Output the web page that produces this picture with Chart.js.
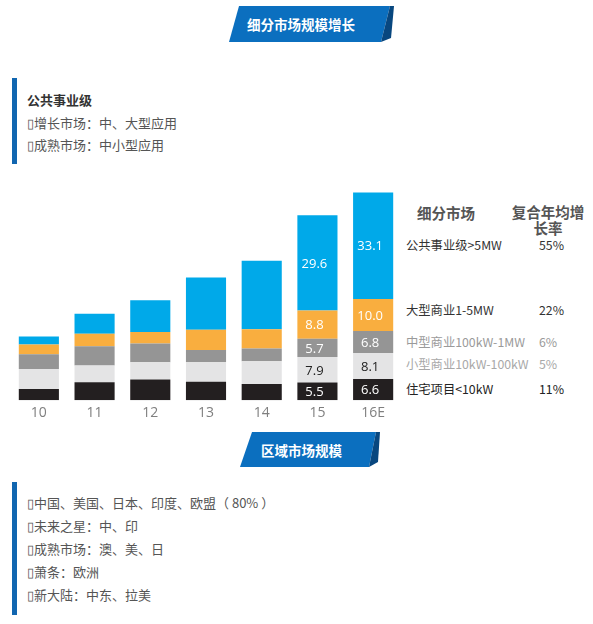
<!DOCTYPE html>
<html>
<head>
<meta charset="utf-8">
<script src="https://cdn.jsdelivr.net/npm/chart.js@4"></script>
<style>
  html, body { margin: 0; padding: 0; background: #fff; }
  body { width: 593px; height: 624px; position: relative; overflow: hidden;
         font-family: "Noto Sans CJK SC", "Noto Sans", sans-serif; }
  .abs { position: absolute; }
  .bar { position: absolute; left: 12px; width: 5px; background: #1166b0; }
  .block { position: absolute; left: 27px; font-size: 13px; color: #555; line-height: 22.5px; white-space: nowrap; }
  .block b { color: #333; }
  .banner-text { position: absolute; color: #fff; font-weight: bold; font-size: 13.5px; line-height: 16px; white-space: nowrap; }
  #chartBox { position: absolute; left: 0; top: 180px; width: 405px; height: 237px; }
  .lg { position: absolute; font-size: 12.3px; line-height: 16px; white-space: nowrap; font-family: "Noto Sans CJK SC", sans-serif; }
  .hd { position: absolute; font-size: 14.5px; font-weight: bold; color: #555; line-height: 17px; white-space: nowrap; text-align: center; }
</style>
</head>
<body>
<svg class="abs" style="left:0;top:0" width="593" height="624">
  <polygon points="239,6 390,6 381,42 229,42" fill="#0b6fbf"/>
  <polygon points="390,6 394,6 391,38 381,42" fill="#08477f"/>
  <polygon points="252,432 376,432 369,467 240,467" fill="#0b6fbf"/>
  <polygon points="376,432 380,432 378,462 369,467" fill="#08477f"/>
</svg>
<div class="banner-text" style="left:247px;top:16px;">细分市场规模增长</div>
<div class="banner-text" style="left:261px;top:442px;">区域市场规模</div>

<div class="bar" style="top:78px;height:86px;"></div>
<div class="block" style="top:89px;">
  <b>公共事业级</b><br>
  ▯增长市场：中、大型应用<br>
  ▯成熟市场：中小型应用
</div>

<div class="bar" style="top:482px;height:133px;"></div>
<div class="block" style="top:491px;line-height:23px;">
  ▯中国、美国、日本、印度、欧盟（ 80% ）<br>
  ▯未来之星：中、印<br>
  ▯成熟市场：澳、美、日<br>
  ▯萧条：欧洲<br>
  ▯新大陆：中东、拉美
</div>

<div id="chartBox"><canvas id="chartMarket"></canvas></div>

<div class="hd" style="left:417px;top:204px;">细分市场</div>
<div class="hd" style="left:510px;top:204px;width:76px;line-height:16px;">复合年均增<br>长率</div>
<div id="legendRows"></div>

<script>
const years = ['10', '11', '12', '13', '14', '15', '16E'];
const residential = [3.5, 5.6, 6.4, 5.7, 5.0, 5.5, 6.6];
const smallCommercial = [6.2, 5.2, 5.4, 6.1, 7.1, 7.9, 8.1];
const midCommercial = [4.6, 6.0, 5.8, 3.8, 4.0, 5.7, 6.8];
const largeCommercial = [3.0, 3.9, 3.6, 6.3, 6.0, 8.8, 10.0];
const utility = [2.5, 6.2, 9.9, 16.3, 21.3, 29.6, 33.1];
const labeledYears = ['15', '16E'];

const segmentNames = ['公共事业级>5MW', '大型商业1-5MW', '中型商业100kW-1MW', '小型商业10kW-100kW', '住宅项目<10kW'];
const cagr = ['55%', '22%', '6%', '5%', '11%'];

// legend rows, top to bottom
const rowTops = [237, 302, 334, 356, 381];
const rowColors = ['#333', '#333', '#9a9a9a', '#a8a8a8', '#222'];
let rowsHtml = '';
for (let i = 0; i < segmentNames.length; i++) {
    const name = segmentNames[i].replace('<', '&lt;').replace('>', '&gt;');
    rowsHtml += '<div class="lg" style="left:406px;top:' + rowTops[i] + 'px;color:' + rowColors[i] + '">' + name + '</div>';
    rowsHtml += '<div class="lg" style="left:539px;top:' + rowTops[i] + 'px;color:' + rowColors[i] + '">' + cagr[i] + '</div>';
}
document.getElementById('legendRows').innerHTML = rowsHtml;

const series = [
    { data: residential, color: '#231f20', text: '#fff' },
    { data: smallCommercial, color: '#e4e4e5', text: '#222' },
    { data: midCommercial, color: '#959595', text: '#fff' },
    { data: largeCommercial, color: '#f9ae3f', text: '#fff' },
    { data: utility, color: '#00a9e9', text: '#fff' },
];

const valueLabels = {
    id: 'valueLabels',
    afterDatasetsDraw(chart) {
        const ctx = chart.ctx;
        ctx.save();
        ctx.font = '13px "Open Sans", sans-serif';
        ctx.textAlign = 'center';
        ctx.textBaseline = 'middle';
        chart.data.datasets.forEach(function (ds, di) {
            const meta = chart.getDatasetMeta(di);
            meta.data.forEach(function (bar, i) {
                if (labeledYears.indexOf(years[i]) < 0) return;
                ctx.fillStyle = series[di].text;
                ctx.fillText(ds.data[i].toFixed(1), bar.x - 3, (bar.y + bar.base) / 2 + 1);
            });
        });
        ctx.restore();
    }
};

new Chart(document.getElementById('chartMarket'), {
    type: 'bar',
    data: {
        labels: years,
        datasets: series.map(function (s) {
            return {
                data: s.data,
                backgroundColor: s.color,
                borderWidth: 0,
                barPercentage: 0.72,
                categoryPercentage: 1.0,
            };
        }),
    },
    options: {
        responsive: true,
        maintainAspectRatio: false,
        animation: false,
        layout: { padding: { left: 11, right: 4, top: 8, bottom: 0 } },
        plugins: {
            legend: { display: false },
            tooltip: { enabled: false },
        },
        scales: {
            x: {
                stacked: true,
                grid: { display: false },
                border: { display: false },
                ticks: {
                    color: '#7f7f7f',
                    font: { family: '"Open Sans", sans-serif', size: 14 },
                    padding: -4,
                },
            },
            y: {
                stacked: true,
                display: false,
                min: 0,
                max: 66,
            },
        },
    },
    plugins: [valueLabels],
});
</script>
</body>
</html>
